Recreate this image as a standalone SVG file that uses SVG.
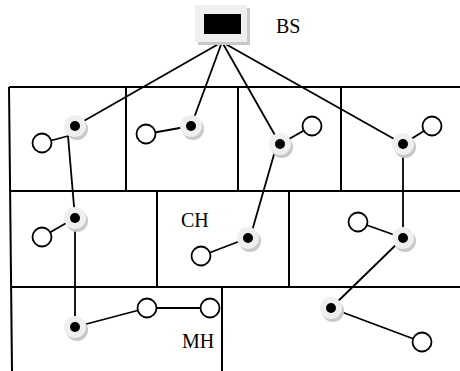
<svg xmlns="http://www.w3.org/2000/svg" width="460" height="371" viewBox="0 0 460 371">
<defs>
<style>
.grid{stroke:#000;stroke-width:2;fill:none}
.conn line{stroke:#000;stroke-width:1.8}
.shadow{fill:#c8c8c8}
.disc{fill:#efefef}
.dot{fill:#000}
.member{fill:#fff;stroke:#000;stroke-width:1.8}
.lbl{font-family:"Liberation Serif",serif;font-size:20px;fill:#000}
</style>
<g id="ch">
<circle class="shadow" cx="2" cy="3" r="11"/>
<circle class="disc" cx="0" cy="0" r="11"/>
<circle class="dot" cx="0" cy="0" r="5"/>
</g>
</defs>
<rect width="460" height="371" fill="#fff"/>
<g id="grid" class="grid">
<line x1="9" y1="87" x2="460" y2="87"/>
<line x1="9" y1="87" x2="12" y2="371"/>
<line x1="10" y1="191" x2="460" y2="191"/>
<line x1="11" y1="287" x2="460" y2="287"/>
<line x1="126" y1="87" x2="126" y2="191"/>
<line x1="238" y1="87" x2="238" y2="191"/>
<line x1="341" y1="87" x2="341" y2="191"/>
<line x1="157" y1="191" x2="157" y2="287"/>
<line x1="289" y1="191" x2="289" y2="287"/>
<line x1="222" y1="287" x2="222" y2="371"/>
</g>
<g id="connectors" class="conn">
<line x1="222" y1="42" x2="75" y2="126"/>
<line x1="222" y1="42" x2="191" y2="126"/>
<line x1="222" y1="42" x2="280" y2="144"/>
<line x1="222" y1="42" x2="403" y2="144"/>
<line x1="42" y1="143" x2="68" y2="136"/>
<line x1="68" y1="136" x2="75" y2="218"/>
<line x1="146" y1="134" x2="191" y2="126"/>
<line x1="280" y1="144" x2="312" y2="126"/>
<line x1="277" y1="144" x2="250" y2="238"/>
<line x1="403" y1="144" x2="432" y2="126"/>
<line x1="403" y1="144" x2="403" y2="238"/>
<line x1="42" y1="237" x2="75" y2="218"/>
<line x1="75" y1="218" x2="75" y2="327"/>
<line x1="201" y1="256" x2="248" y2="238"/>
<line x1="358" y1="222" x2="403" y2="238"/>
<line x1="403" y1="238" x2="331" y2="308"/>
<line x1="75" y1="327" x2="147" y2="308"/>
<line x1="147" y1="308" x2="210" y2="308"/>
<line x1="331" y1="308" x2="422" y2="342"/>
</g>
<g id="BS">
<rect x="198" y="8" width="52" height="37" fill="#c8c8c8"/>
<rect x="195" y="5" width="52" height="37" fill="#efefef"/>
<rect x="204" y="14" width="37" height="20" fill="#000"/>
<text class="lbl" x="276" y="33">BS</text>
</g>
<g id="n1"><use href="#ch" x="75" y="126"/></g>
<g id="n2"><use href="#ch" x="191" y="126"/></g>
<g id="n3"><use href="#ch" x="280" y="144"/></g>
<g id="n4"><use href="#ch" x="403" y="144"/></g>
<g id="n5"><use href="#ch" x="75" y="218"/></g>
<g id="n6"><use href="#ch" x="248" y="238"/></g>
<g id="n7"><use href="#ch" x="403" y="238"/></g>
<g id="n8"><use href="#ch" x="75" y="327"/></g>
<g id="n9"><use href="#ch" x="331" y="308"/></g>
<g id="m1"><circle class="member" cx="42" cy="143" r="9.5"/></g>
<g id="m2"><circle class="member" cx="146" cy="134" r="9.5"/></g>
<g id="m3"><circle class="member" cx="312" cy="126" r="9.5"/></g>
<g id="m4"><circle class="member" cx="432" cy="126" r="9.5"/></g>
<g id="m5"><circle class="member" cx="42" cy="237" r="9.5"/></g>
<g id="m6"><circle class="member" cx="201" cy="256" r="9.5"/></g>
<g id="m7"><circle class="member" cx="358" cy="222" r="9.5"/></g>
<g id="m8"><circle class="member" cx="147" cy="308" r="9.5"/></g>
<g id="m9"><circle class="member" cx="210" cy="308" r="9.5"/></g>
<g id="m10"><circle class="member" cx="422" cy="342" r="9.5"/></g>
<g id="labels">
<text class="lbl" x="181" y="227">CH</text>
<text class="lbl" x="182" y="348">MH</text>
</g>
</svg>
